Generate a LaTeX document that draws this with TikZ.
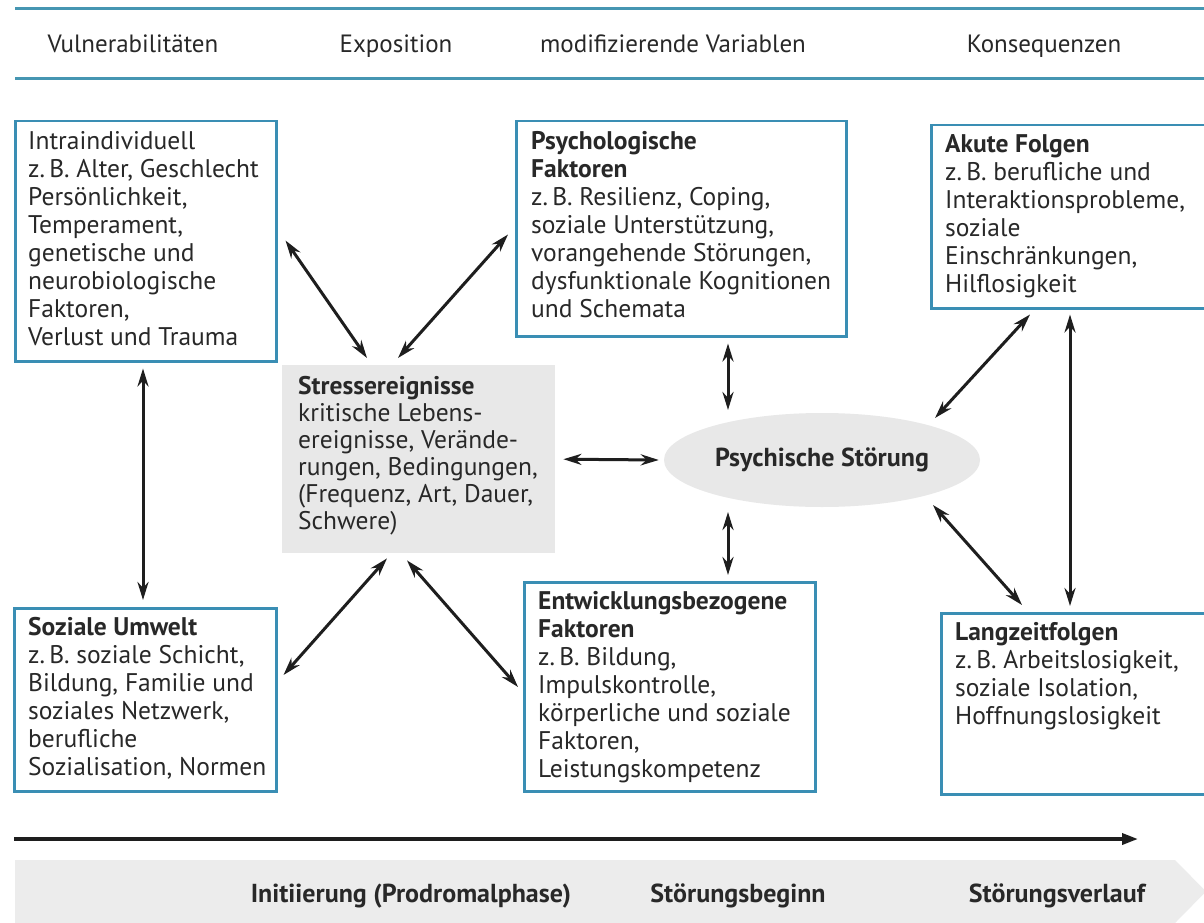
\documentclass[tikz,border=0pt]{standalone}
\usepackage{fontspec}
\setmainfont{PT Sans}
\usetikzlibrary{arrows.meta,shapes.geometric,calc}
\definecolor{boxblue}{RGB}{58,142,180}
\definecolor{lineblue}{RGB}{70,150,178}
\definecolor{txtc}{RGB}{40,40,40}
\definecolor{fillg}{RGB}{232,232,232}
\definecolor{bandg}{RGB}{236,236,236}
\definecolor{arrc}{RGB}{30,30,30}
\newcommand{\bodyf}{\fontsize{25.5}{28}\selectfont}
\tikzset{
  boxnode/.style={draw=boxblue, line width=2.5pt, inner sep=0pt, anchor=north west},
  txt/.style={anchor=north west, align=left, inner sep=0pt, text=txtc, font=\bodyf},
  hdr/.style={inner sep=0pt, anchor=base, text=txtc, font=\fontsize{25}{28}\selectfont},
  phase/.style={inner sep=0pt, anchor=base, text=txtc, font=\fontsize{26}{28}\selectfont\bfseries},
  dbl/.style={{Stealth[length=18pt,width=11pt]}-{Stealth[length=18pt,width=11pt]}, line width=3pt, draw=arrc},
}
\begin{document}
\begin{tikzpicture}[x=1pt,y=-1pt]
\useasboundingbox (0,0) rectangle (1204,923);
\fill[white] (0,0) rectangle (1204,923);
% header lines
\coordinate (l1a) at (15,9); \coordinate (l1b) at (1204,9);
\coordinate (l2a) at (15,79); \coordinate (l2b) at (1204,79);
\draw[lineblue, line width=3pt] (l1a) -- (l1b);
\draw[lineblue, line width=3pt] (l2a) -- (l2b);
\node[hdr] (h1) at (133,53) {Vulnerabilitäten};
\node[hdr] (h2) at (396,53) {Exposition};
\node[hdr] (h3) at (673,53) {modifizierende Variablen};
\node[hdr] (h4) at (1044,53) {Konsequenzen};

% boxes
\node[boxnode, minimum width=261pt, minimum height=240pt] (intra) at (14,120) {};
\node[txt] (intraT) at ([shift={(14pt,-11pt)}]intra.north west)
  {Intraindividuell\\z.\,B. Alter, Geschlecht\\Persönlichkeit,\\Temperament,\\genetische und\\neurobiologische\\Faktoren,\\Verlust und Trauma};

\node[boxnode, minimum width=330pt, minimum height=215pt] (psych) at (515,120) {};
\node[txt] (psychT) at ([shift={(16pt,-11pt)}]psych.north west)
  {\textbf{Psychologische}\\\textbf{Faktoren}\\z.\,B. Resilienz, Coping,\\soziale Unterstützung,\\vorangehende Störungen,\\dysfunktionale Kognitionen\\und Schemata};

\node[boxnode, minimum width=282pt, minimum height=183pt] (akute) at (930,124) {};
\node[txt] (akuteT) at ([shift={(15pt,-10pt)}]akute.north west)
  {\textbf{Akute Folgen}\\z.\,B. berufliche und\\Interaktionsprobleme,\\soziale\\Einschränkungen,\\Hilflosigkeit};

\node[fill=fillg, inner sep=0pt, anchor=north west, minimum width=273pt, minimum height=188pt] (stress) at (282,365) {};
\node[txt, font=\fontsize{25.5}{27}\selectfont] (stressT) at ([shift={(16pt,-11pt)}]stress.north west)
  {\textbf{Stressereignisse}\\kritische Lebens-\\ereignisse, Verände-\\rungen, Bedingungen,\\(Frequenz, Art, Dauer,\\Schwere)};

\node[ellipse, fill=fillg, minimum width=316pt, minimum height=94pt, inner sep=0pt, text=txtc, font=\fontsize{26}{28}\selectfont\bfseries] (ps) at (822,460) {Psychische Störung};

\node[boxnode, minimum width=262pt, minimum height=183pt] (sozial) at (13,607) {};
\node[txt] (sozialT) at ([shift={(15pt,-10pt)}]sozial.north west)
  {\textbf{Soziale Umwelt}\\z.\,B. soziale Schicht,\\Bildung, Familie und\\soziales Netzwerk,\\berufliche\\Sozialisation, Normen};

\node[boxnode, minimum width=291pt, minimum height=209pt] (entw) at (523,581) {};
\node[txt] (entwT) at ([shift={(15pt,-10pt)}]entw.north west)
  {\textbf{Entwicklungsbezogene}\\\textbf{Faktoren}\\z.\,B. Bildung,\\Impulskontrolle,\\körperliche und soziale\\Faktoren,\\Leistungskompetenz};

\node[boxnode, minimum width=272pt, minimum height=181pt] (lang) at (940,612) {};
\node[txt] (langT) at ([shift={(15pt,-10pt)}]lang.north west)
  {\textbf{Langzeitfolgen}\\z.\,B. Arbeitslosigkeit,\\soziale Isolation,\\Hoffnungslosigkeit};

% connectors
\draw[dbl] ([shift={(8pt,122pt)}]intra.south east) -- ([shift={(85pt,7pt)}]stress.north west);
\draw[dbl] ([shift={(-7pt,103pt)}]psych.south west) -- ([shift={(116pt,7pt)}]stress.north west);
\draw[dbl] ([shift={(129pt,-6pt)}]intra.south west) -- ([shift={(130pt,7pt)}]sozial.north west);
\draw[dbl] ([xshift=8pt]stress.east) -- ([xshift=-5pt]ps.west);
\draw[dbl] ([shift={(213pt,-6pt)}]psych.south west) -- ([shift={(-94pt,50pt)}]ps.center);
\draw[dbl] ([shift={(-94pt,-52pt)}]ps.center) -- ([shift={(205pt,6pt)}]entw.north west);
\draw[dbl] ([shift={(105pt,-5pt)}]stress.south west) -- ([shift={(6pt,-68pt)}]sozial.north east);
\draw[dbl] ([shift={(125pt,-7pt)}]stress.south west) -- ([shift={(-5pt,-106pt)}]entw.north west);
\draw[dbl] ([shift={(113pt,42pt)}]ps.center) -- ([shift={(100pt,-5pt)}]akute.south west);
\draw[dbl] ([shift={(111pt,-45pt)}]ps.center) -- ([shift={(82pt,7pt)}]lang.north west);
\draw[dbl] ([shift={(140pt,-5pt)}]akute.south west) -- ([shift={(130pt,6pt)}]lang.north west);

% timeline
\coordinate (t0) at (14,839);
\coordinate (t1) at (1138,839);
\draw[arrc, line width=3.5pt, -{Triangle[length=16pt,width=11pt]}] (t0) -- (t1);
\fill[bandg] (15,860) -- (1175,860) -- (1206,891.5) -- (1175,923) -- (15,923) -- cycle;
\node[phase] (p1) at (411,902) {Initiierung (Prodromalphase)};
\node[phase] (p2) at (738,902) {Störungsbeginn};
\node[phase] (p3) at (1057,902) {Störungsverlauf};
\end{tikzpicture}
\end{document}
